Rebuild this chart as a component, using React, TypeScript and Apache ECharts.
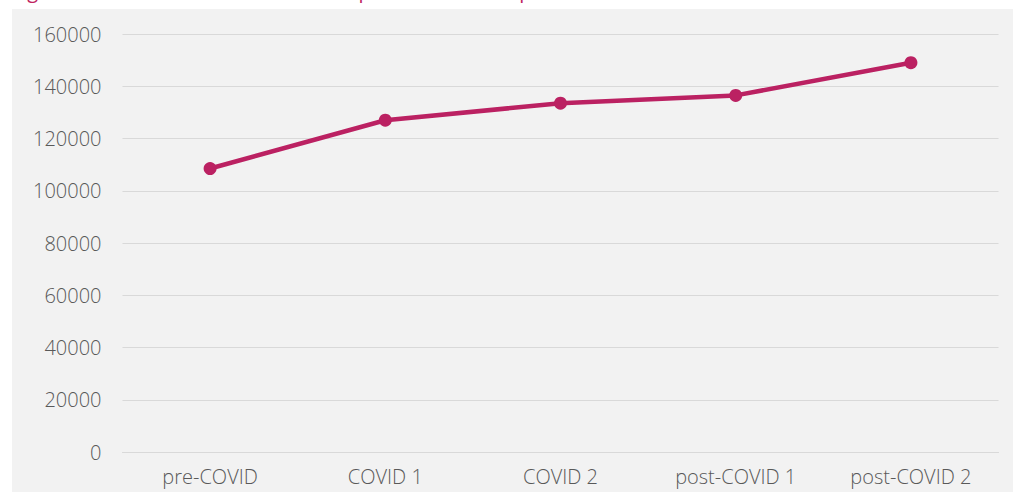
import React, { useEffect, useRef } from "react";
import * as echarts from "echarts";

const categories = ["pre-COVID", "COVID 1", "COVID 2", "post-COVID 1", "post-COVID 2"];
const values = [108500, 127000, 133500, 136500, 149000];
const titleText = "Figure 1: Total number of contacts in practices in each period";

export default function App() {
  const ref = useRef<HTMLDivElement>(null);
  useEffect(() => {
    const chart = echarts.init(ref.current!, null, { renderer: "svg" });
    chart.setOption({
      animation: false,
      backgroundColor: "#ffffff",
      graphic: [
        {
          type: "rect",
          z: -10,
          silent: true,
          shape: { x: 12, y: 9, width: 1001, height: 483 },
          style: { fill: "#f2f2f2" },
        },
        {
          type: "text",
          x: 12,
          y: 0,
          style: {
            text: titleText,
            fill: "#c0245f",
            font: "20px 'Open Sans'",
            verticalAlign: "bottom",
          },
        },
      ],
      grid: { left: 122.5, right: 14.5, top: 34, bottom: 40, containLabel: false },
      xAxis: {
        type: "category",
        data: categories,
        boundaryGap: true,
        axisLine: { show: true, lineStyle: { color: "#d9d9d9", width: 1 } },
        axisTick: { show: false },
        axisLabel: {
          color: "#595959",
          fontFamily: "Open Sans",
          fontWeight: 300,
          fontSize: 20,
          margin: 14,
        },
      },
      yAxis: {
        type: "value",
        min: 0,
        max: 160000,
        interval: 20000,
        axisLine: { show: false },
        axisTick: { show: false },
        splitLine: { lineStyle: { color: "#d9d9d9", width: 1 } },
        axisLabel: {
          color: "#595959",
          fontFamily: "Open Sans",
          fontWeight: 300,
          fontSize: 20,
          margin: 21,
          formatter: (v: number) => String(v),
        },
      },
      series: [
        {
          type: "line",
          data: values,
          symbol: "circle",
          symbolSize: 13,
          lineStyle: { color: "#bb2162", width: 4.5 },
          itemStyle: { color: "#bb2162" },
        },
      ],
    });
    return () => chart.dispose();
  }, []);
  return (
    <div
      ref={ref}
      style={{ position: "absolute", left: 0, top: 0, width: 1013, height: 492 }}
    />
  );
}
